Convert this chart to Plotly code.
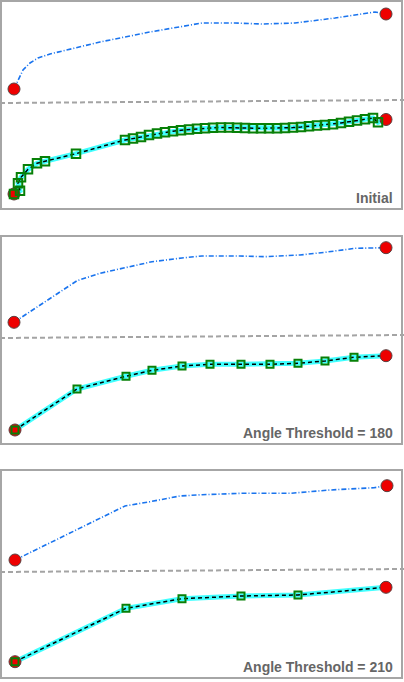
import plotly.graph_objects as go

# ---------------- data (x in panel units, y = height above panel bottom) ----------------
titles = ["Initial", "Angle Threshold = 180", "Angle Threshold = 210"]

# Panel 1 - Initial
p1_top_x = [14, 18, 23, 30, 38, 50, 67, 100, 150, 202, 235, 262, 295, 335, 375, 386]
p1_top_y = [121, 130, 140, 147, 152, 156, 160, 168, 178, 187, 187, 186, 187, 192, 198, 196]
p1_bot_x = [14, 20, 18, 21, 28, 37, 45, 76, 125, 133, 141, 149, 157, 165, 173, 181, 189,
            197, 205, 213, 221, 229, 237, 245, 253, 261, 269, 277, 285, 293, 301, 309,
            317, 325, 333, 341, 349, 357, 365, 373, 378, 386]
p1_bot_y = [16, 19.3, 26.7, 32.7, 40.7, 46.7, 48.7, 56.3, 70, 71.5, 73, 75, 76.5, 77.7,
            78.8, 79.8, 80.5, 81.2, 81.8, 82.2, 82.5, 82.5, 82.3, 82, 81.8, 81.7, 81.7,
            81.8, 82, 82.4, 83, 83.7, 84.4, 85.1, 85.8, 87, 88.2, 89.5, 90.8, 92, 87.7, 90.5]

# Panel 2 - Angle Threshold = 180
p2_top_x = [14, 77, 100, 125, 152, 182, 202, 240, 265, 300, 325, 355, 379, 386]
p2_top_y = [122.7, 164.3, 171.7, 177, 183.3, 187, 189, 189, 188.3, 190, 192.7, 196.7, 197.3, 197.3]
p2_bot_x = [15, 77, 126, 152, 182, 210, 241, 270, 298, 325, 354, 386]
p2_bot_y = [15, 56, 68.7, 74.7, 79, 80.7, 80.7, 80.7, 81.7, 84, 87.7, 89.3]

# Panel 3 - Angle Threshold = 210
p3_top_x = [15, 125, 150, 180, 202, 242, 290, 330, 374, 387]
p3_top_y = [119, 173, 177.3, 183, 184.3, 185.7, 185.7, 189, 191.3, 193.3]
p3_bot_x = [15, 126, 182, 241, 298, 386]
p3_bot_y = [17.3, 70.7, 80.3, 83, 84, 91.7]

# dashed separator between the two lines (same in every panel)
sep_x = [0, 404]
sep_y = [107, 110]

panels = [
    (p1_top_x, p1_top_y, p1_bot_x, p1_bot_y, 8.5),
    (p2_top_x, p2_top_y, p2_bot_x, p2_bot_y, 7),
    (p3_top_x, p3_top_y, p3_bot_x, p3_bot_y, 7),
]

# ---------------- layout constants ----------------
W, H = 404, 682
panel_tops = [0, 235, 469]
panel_h = 210

fig = go.Figure()

for i, (tx, ty, bx, by, sq) in enumerate(panels):
    n = i + 1
    xa = "x" if n == 1 else f"x{n}"
    ya = "y" if n == 1 else f"y{n}"
    # separator
    fig.add_trace(go.Scatter(x=sep_x, y=sep_y, mode="lines", xaxis=xa, yaxis=ya,
                             line=dict(color="#a4a4a4", width=2, dash="5px,3px"),
                             hoverinfo="skip"))
    # top blue dash-dot line
    fig.add_trace(go.Scatter(x=tx, y=ty, mode="lines", xaxis=xa, yaxis=ya,
                             line=dict(color="#1a74ee", width=1.6, dash="5px,2px,1px,2px"),
                             hoverinfo="skip"))
    # bottom cyan band + black dashes
    fig.add_trace(go.Scatter(x=bx, y=by, mode="lines", xaxis=xa, yaxis=ya,
                             line=dict(color="#40ffff", width=5),
                             hoverinfo="skip"))
    fig.add_trace(go.Scatter(x=bx, y=by, mode="lines", xaxis=xa, yaxis=ya,
                             line=dict(color="#000000", width=1.5, dash="4px,3px"),
                             hoverinfo="skip"))
    # red end points
    fig.add_trace(go.Scatter(x=[tx[0], tx[-1], bx[0], bx[-1]],
                             y=[ty[0], ty[-1], by[0], by[-1]],
                             mode="markers", xaxis=xa, yaxis=ya,
                             marker=dict(symbol="circle", size=12, color="#ee0000",
                                         line=dict(color="#5a4040", width=1)),
                             hoverinfo="skip"))
    # green vertex squares
    fig.add_trace(go.Scatter(x=bx[:-1], y=by[:-1], mode="markers", xaxis=xa, yaxis=ya,
                             marker=dict(symbol="square-open", size=sq, color="#078007",
                                         line=dict(color="#078007", width=2)),
                             hoverinfo="skip"))
    # label
    fig.add_annotation(x=395, y=12, xref=xa, yref=ya, text=f"<b>{titles[i]}</b>",
                       showarrow=False, xanchor="right", yanchor="middle",
                       font=dict(family="Liberation Sans, Arial", size=14, color="#666666"))
    # panel border
    fig.add_shape(type="rect", xref=xa, yref=ya, x0=1, x1=402, y0=1, y1=209,
                  line=dict(color="#a6a6a6", width=2), fillcolor="rgba(0,0,0,0)", layer="above")

    top = panel_tops[i]
    dom = [1 - (top + panel_h) / H, 1 - top / H]
    axis_common = dict(showgrid=False, zeroline=False, showticklabels=False,
                       showline=False, ticks="", fixedrange=True)
    fig.update_layout(**{
        ("xaxis" if n == 1 else f"xaxis{n}"): dict(domain=[0, 1], range=[0, W], anchor=ya, **axis_common),
        ("yaxis" if n == 1 else f"yaxis{n}"): dict(domain=dom, range=[0, panel_h], anchor=xa, **axis_common),
    })

fig.update_layout(width=W, height=H, margin=dict(l=0, r=0, t=0, b=0),
                  paper_bgcolor="white", plot_bgcolor="white", showlegend=False)

fig.write_html("out.html", config={"displayModeBar": False},
               post_script="document.body.style.margin='0';document.body.style.padding='0';")
